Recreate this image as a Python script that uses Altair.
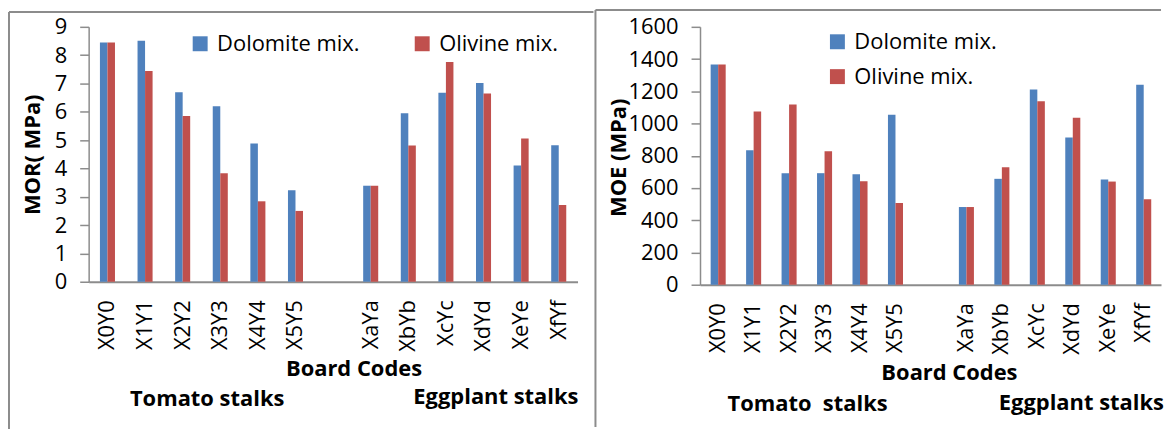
import altair as alt
import pandas as pd

codes = ["X0Y0", "X1Y1", "X2Y2", "X3Y3", "X4Y4", "X5Y5",
         "XaYa", "XbYb", "XcYc", "XdYd", "XeYe", "XfYf"]
series_names = ["Dolomite mix.", "Olivine mix."]
series_colors = ["#4F81BD", "#C0504D"]

mor_dolomite = [8.45, 8.51, 6.69, 6.20, 4.88, 3.23, 3.39, 5.95, 6.67, 7.02, 4.10, 4.82]
mor_olivine = [8.45, 7.44, 5.85, 3.83, 2.84, 2.50, 3.39, 4.81, 7.76, 6.65, 5.06, 2.71]
moe_dolomite = [1367, 834, 692, 692, 686, 1054, 482, 657, 1211, 914, 653, 1240]
moe_olivine = [1367, 1075, 1118, 828, 642, 507, 482, 729, 1139, 1036, 640, 531]

mor_ticks = [0, 1, 2, 3, 4, 5, 6, 7, 8, 9]
moe_ticks = [0, 200, 400, 600, 800, 1000, 1200, 1400, 1600]

x_domain = codes[:6] + [" "] + codes[6:]

FONT = "Open Sans"
GREY = "#8c8c8c"


def long_df(a, b):
    return pd.DataFrame({
        "code": codes * 2,
        "series": [series_names[0]] * len(codes) + [series_names[1]] * len(codes),
        "value": a + b,
    })


def one():
    return alt.Data(values=[{}])


def panel(df, ymax, yticks, ytitle, w, h, yt_x, yt_y, bc_x, bc_y, legend_kw,
          frame, tom, egg, tom_text):
    bars = alt.Chart(df).mark_bar().encode(
        x=alt.X("code:N",
                scale=alt.Scale(domain=x_domain, paddingInner=0.6, paddingOuter=0.3),
                axis=alt.Axis(labelAngle=-90, ticks=False, labelPadding=18,
                              labelFont=FONT, labelFontSize=22, labelColor="#000",
                              domainColor=GREY, domainWidth=2,
                              titleFont=FONT, titleFontSize=22, titleFontWeight="bold",
                              titleColor="#000", titleX=bc_x, titleY=bc_y,
                              titleBaseline="middle", titleAlign="center"),
                title="Board Codes"),
        xOffset=alt.XOffset("series:N", scale=alt.Scale(domain=series_names)),
        y=alt.Y("value:Q",
                scale=alt.Scale(domain=[0, ymax], nice=False),
                axis=alt.Axis(values=yticks, format="d", grid=False, tickSize=9,
                              tickColor=GREY, tickWidth=1.5, domainColor=GREY,
                              domainWidth=1.5,
                              labelFont=FONT, labelFontSize=22, labelColor="#000",
                              labelPadding=13,
                              titleFont=FONT, titleFontSize=22, titleFontWeight="bold",
                              titleColor="#000", titleX=yt_x, titleY=yt_y,
                              titleAngle=270, titleBaseline="middle", titleAlign="center"),
                title=ytitle),
        color=alt.Color("series:N",
                        scale=alt.Scale(domain=series_names, range=series_colors),
                        legend=alt.Legend(title=None, orient="none", symbolType="square",
                                          symbolSize=225, symbolStrokeWidth=0,
                                          labelFont=FONT, labelFontSize=22,
                                          labelColor="#000", labelOffset=6,
                                          **legend_kw)),
    )
    fx0, fx1, fy0, fy1 = frame
    rules = [
        alt.Chart(one()).mark_rule(color=GREY, strokeWidth=2).encode(
            x=alt.value(fx0), x2=alt.value(fx1), y=alt.value(fy0)),
        alt.Chart(one()).mark_rule(color=GREY, strokeWidth=2).encode(
            x=alt.value(fx0), y=alt.value(fy0), y2=alt.value(fy1)),
    ]
    texts = [
        alt.Chart(one()).mark_text(text=tom_text, font=FONT, fontSize=22,
                                   fontWeight="bold", color="#000",
                                   align="center", baseline="middle").encode(
            x=alt.value(tom[0]), y=alt.value(tom[1])),
        alt.Chart(one()).mark_text(text="Eggplant stalks", font=FONT, fontSize=22,
                                   fontWeight="bold", color="#000",
                                   align="center", baseline="middle").encode(
            x=alt.value(egg[0]), y=alt.value(egg[1])),
    ]
    return alt.layer(bars, *rules, *texts).properties(width=w, height=h)


left = panel(long_df(mor_dolomite, mor_olivine), 9, mor_ticks, "MOR( MPa)",
             491, 256, -56, 128, 266, 87,
             dict(direction="horizontal", legendX=101, legendY=6, columnPadding=51),
             (-80, 507, -15, 404), (119, 374), (409, 372), "Tomato stalks")

right = panel(long_df(moe_dolomite, moe_olivine), 1600, moe_ticks, "MOE (MPa)",
              463, 259, -82, 131, 250, 88,
              dict(direction="vertical", legendX=127, legendY=4, rowPadding=13),
              (-105, 463, -17, 402), (108, 379), (383, 378), "Tomato\u00a0 stalks")

chart = alt.hconcat(left, right, spacing=0).resolve_scale(
    color="independent", x="independent", y="independent"
).properties(padding=0).configure_view(stroke=None)

chart.save("out.html", embed_options={"renderer": "svg", "actions": False})
